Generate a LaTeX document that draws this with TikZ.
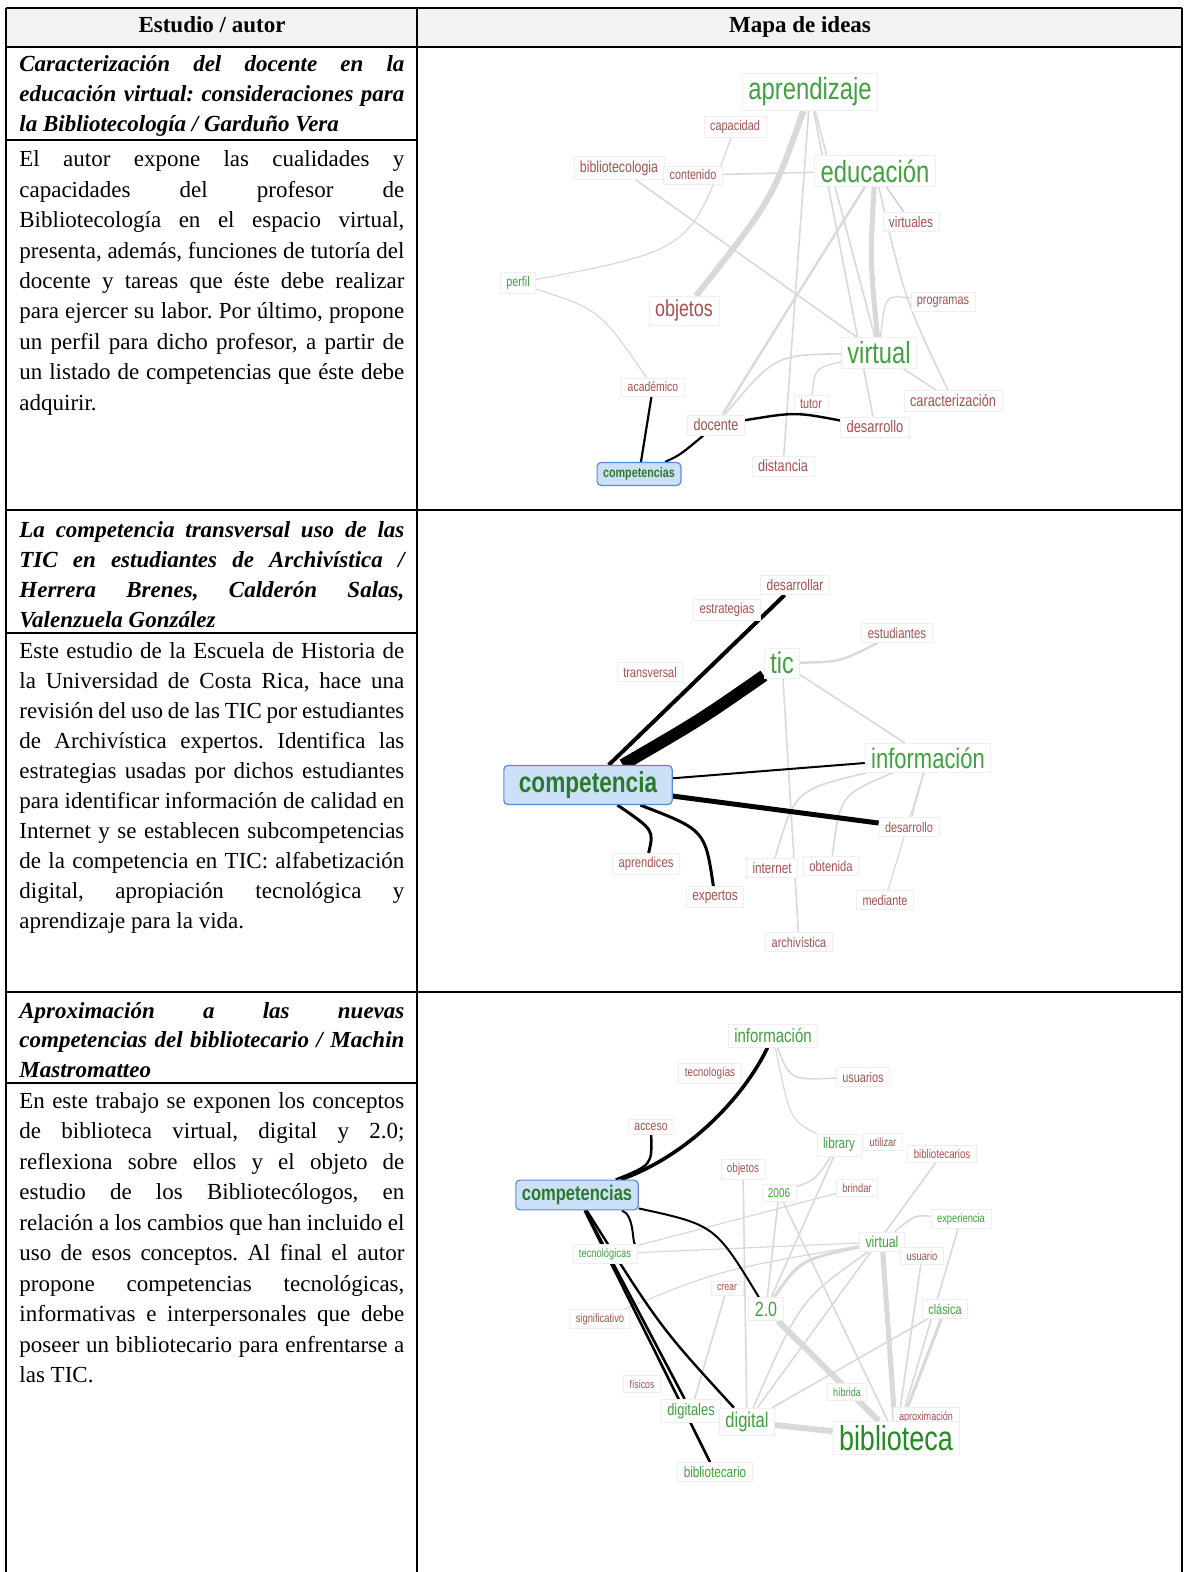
\documentclass[tikz,border=0pt]{standalone}
\usepackage{fontspec}
\setmainfont{Liberation Serif}
\setsansfont{Liberation Sans}
\newfontfamily\mapfont[FakeStretch=0.78]{Liberation Sans}
\definecolor{cGreen}{HTML}{3FA23F}
\definecolor{cDkGreen}{HTML}{248A24}
\definecolor{cSelText}{HTML}{2B7A2B}
\definecolor{cBrown}{HTML}{A5524F}
\definecolor{cEdge}{HTML}{D9D9D9}
\definecolor{cFaint}{HTML}{F0EEEE}
\definecolor{cSel}{HTML}{CCE0F8}
\definecolor{cSelB}{HTML}{5B8BD3}
\definecolor{cHead}{HTML}{F2F2F2}
\pgfdeclarelayer{back}
\pgfsetlayers{back,main}
\newcommand{\jline}[1]{\makebox[192.5pt][s]{#1}}
\frenchspacing

\begin{document}
\begin{tikzpicture}[x=0.5pt,y=-0.5pt,
	txt/.style={anchor=base west, inner sep=0pt, font=\fontsize{11.5}{14}\selectfont},
	ttl/.style={txt, font=\fontsize{11.5}{14}\selectfont\bfseries\itshape},
	hd/.style={anchor=base, inner sep=0pt, font=\fontsize{11.5}{14}\selectfont\bfseries},
	wd/.style={draw=cFaint, line width=0.4pt, fill=white, inner xsep=0.3em, inner ysep=0.2em, font=\mapfont\fontsize{#1}{#1}\selectfont},
	gw/.style={wd=#1, text=cGreen},
	rw/.style={wd=#1, text=cBrown},
	sel/.style={fill=cSel, draw=cSelB, line width=0.6pt, rounded corners=2pt, inner xsep=0.3em, inner ysep=0.25em, text=cSelText, font=\mapfont\bfseries\fontsize{#1}{#1}\selectfont},
	gl/.style={draw=cEdge, line width=#1}, gl/.default=0.8pt,
	bl/.style={draw=black, line width=#1}, bl/.default=1pt]
	\begin{pgfonlayer}{back}
		\fill[white] (0,0) rectangle (1186,1572);
	\end{pgfonlayer}
	\useasboundingbox (0,0) rectangle (1186,1572);
	% table
	\fill[cHead] (6,8) rectangle (1182,47);
	\draw[line width=1pt] (6,8) -- (1182,8) (6,47) -- (1182,47) (6,510) -- (1182,510) (6,992) -- (1182,992)
		(6,8) -- (6,1572) (417,8) -- (417,1572) (1182,8) -- (1182,1572);
	\draw[line width=0.6pt] (6,140) -- (417,140) (6,633) -- (417,633) (6,1083) -- (417,1083);
	\node[hd] (hA) at (212,33) {Estudio / autor};
	\node[hd] (hB) at (800,33) {Mapa de ideas};

	% left column
	\foreach \tx [count=\i from 0] in {{Caracterización del docente en la},{educación virtual: consideraciones para},{la Bibliotecología / Garduño Vera\hfill}}
		\node[ttl] (p1t-\i) at (19,72+30*\i) {\jline{\tx}};
	\foreach \tx [count=\i from 0] in {{El autor expone las cualidades y},{capacidades del profesor de},{Bibliotecología en el espacio virtual,},{presenta, además, funciones de tutoría del},{docente y tareas que éste debe realizar},{para ejercer su labor. Por último, propone},{un perfil para dicho profesor, a partir de},{un listado de competencias que éste debe},{adquirir.\hfill}}
		\node[txt] (p1b-\i) at (19,167+30.4*\i) {\jline{\tx}};
	\foreach \tx [count=\i from 0] in {{La competencia transversal uso de las},{TIC en estudiantes de Archivística /},{Herrera Brenes, Calderón Salas,},{Valenzuela González\hfill}}
		\node[ttl] (p2t-\i) at (19,537+30*\i) {\jline{\tx}};
	\foreach \tx [count=\i from 0] in {{Este estudio de la Escuela de Historia de},{la Universidad de Costa Rica, hace una},{revisión del uso de las TIC por estudiantes},{de Archivística expertos. Identifica las},{estrategias usadas por dichos estudiantes},{para identificar información de calidad en},{Internet y se establecen subcompetencias},{de la competencia en TIC: alfabetización},{digital, apropiación tecnológica y},{aprendizaje para la vida.\hfill}}
		\node[txt] (p2b-\i) at (19,658+30*\i) {\jline{\tx}};
	\foreach \tx [count=\i from 0] in {{Aproximación a las nuevas},{competencias del bibliotecario / Machin},{Mastromatteo\hfill}}
		\node[ttl] (p3t-\i) at (19,1018+29.5*\i) {\jline{\tx}};
	\foreach \tx [count=\i from 0] in {{En este trabajo se exponen los conceptos},{de biblioteca virtual, digital y 2.0;},{reflexiona sobre ellos y el objeto de},{estudio de los Bibliotecólogos, en},{relación a los cambios que han incluido el},{uso de esos conceptos. Al final el autor},{propone competencias tecnológicas,},{informativas e interpersonales que debe},{poseer un bibliotecario para enfrentarse a},{las TIC.\hfill}}
		\node[txt] (p3b-\i) at (19,1108+30.5*\i) {\jline{\tx}};

	% map 1
	\node[gw=15.3] (apr) at (810,92) {aprendizaje};
	\node[rw=7.0] (cap) at (735,127) {capacidad};
	\node[rw=7.9] (bib) at (619,168) {bibliotecologia};
	\node[rw=6.9] (con) at (693,175) {contenido};
	\node[gw=15.3] (edu) at (875,171) {educación};
	\node[rw=7.6] (vls) at (911,222) {virtuales};
	\node[gw=6.9] (per) at (518,283) {perfil};
	\node[rw=11.5] (obj) at (684,311) {objetos};
	\node[rw=7.0] (pro) at (943,302) {programas};
	\node[gw=15.2] (vir) at (879,353) {virtual};
	\node[rw=6.7] (aca) at (653,387) {académico};
	\node[rw=8.2] (car) at (953,401) {caracterización};
	\node[rw=7.0] (tut) at (811,404) {tutor};
	\node[rw=8.1] (doc) at (716,425) {docente};
	\node[rw=8.3] (des) at (875,427) {desarrollo};
	\node[rw=8.1] (dis) at (783,466) {distancia};
	\node[sel=6.9] (com) at (639,474) {competencias};
	\begin{pgfonlayer}{back}
		\draw[gl=3pt] (apr) .. controls (772,200) .. (obj);
		\draw[gl] (apr) -- (vir);
		\draw[gl] (apr) -- (dis);
		\draw[gl] (apr) -- (des);
		\draw[gl=2.5pt] (edu) .. controls (870,260) .. (vir);
		\draw[gl=1.2pt] (edu) .. controls (800,290) .. (doc);
		\draw[gl] (edu) .. controls (905,300) .. (car);
		\draw[draw=cBrown!40, line width=0.5pt] (edu) -- (vls);
		\draw[gl] (con) -- (edu);
		\draw[gl=0.6pt] (cap) .. controls (690,250) .. (per);
		\draw[gl] (bib) -- (vir);
		\draw[gl=0.6pt] (per) .. controls (600,310) .. (aca);
		\draw[gl] (vir) .. controls (775,355) .. (doc);
		\draw[gl=0.7pt] (vir) .. controls (815,368) .. (tut);
		\draw[gl=0.7pt] (vir) .. controls (885,295) .. (pro);
		\draw[gl] (vir) -- (car);
		\draw[bl=1.1pt] (com) -- (aca);
		\draw[bl=1.1pt] (com) .. controls (680,455) .. (doc);
		\draw[bl=1.2pt] (doc) .. controls (795,412) .. (des);
	\end{pgfonlayer}

	% map 2
	\node[sel=14.5, inner xsep=0.75em, inner ysep=0.3em] (comp2) at (588,785) {competencia};
	\node[rw=7.7] (desa) at (795,585) {desarrollar};
	\node[rw=7.2] (estr) at (727,610) {estrategias};
	\node[rw=7.3] (estu) at (897,633) {estudiantes};
	\node[gw=15] (tic) at (782,663) {tic};
	\node[rw=7.0] (tran) at (650,672) {transversal};
	\node[gw=14.1] (inf2) at (928,758) {información};
	\node[rw=7.0] (des2) at (909,827) {desarrollo};
	\node[rw=7.2] (apre) at (646,864) {aprendices};
	\node[rw=7.5] (inte) at (772,868) {internet};
	\node[rw=7.2] (obte) at (831,866) {obtenida};
	\node[rw=7.6] (expe) at (715,897) {expertos};
	\node[rw=7.0] (medi) at (885,900) {mediante};
	\node[rw=7.0] (arch) at (799,942) {archivística};
	\begin{pgfonlayer}{back}
		\draw[gl=1.2pt] (tic) .. controls (840,662) .. (estu);
		\draw[gl] (tic) -- (inf2);
		\draw[gl] (tic) -- (arch);
		\draw[gl] (inf2) .. controls (795,790) .. (inte);
		\draw[gl] (inf2) .. controls (840,795) .. (obte);
		\draw[gl=0.6pt] (inf2) -- (medi);
		\draw[gl=0.6pt] (inf2) -- (des2);
		\draw[bl=2pt] (comp2) -- (desa);
		\draw[bl=6pt] (comp2) .. controls (700,720) .. (tic);
		\draw[bl=1pt] (comp2) -- (inf2);
		\draw[bl=2.5pt] (comp2) -- (des2);
		\draw[bl=1.5pt] (comp2) .. controls (654,830) .. (apre);
		\draw[bl=1.5pt] (comp2) .. controls (705,830) .. (expe);
	\end{pgfonlayer}

	% map 3
	\node[gw=9.6] (inf3) at (773,1036) {información};
	\node[rw=6.3] (tec3) at (710,1073) {tecnologías};
	\node[rw=7.0] (usu3) at (863,1077) {usuarios};
	\node[rw=6.7] (acc) at (651,1127) {acceso};
	\node[gw=7.5] (lib) at (839,1145) {library};
	\node[rw=5.9] (uti) at (883,1142) {utilizar};
	\node[rw=6.2] (bibs) at (942,1154) {bibliotecarios};
	\node[rw=6.4] (obj3) at (743,1169) {objetos};
	\node[gw=6.4] (n2006) at (779,1193) {2006};
	\node[rw=6.0] (bri) at (857,1188) {brindar};
	\node[sel=10.6] (comp3) at (577,1195) {competencias};
	\node[gw=6.0] (exp) at (961,1219) {experiencia};
	\node[gw=7.9] (vir3) at (882,1242) {virtual};
	\node[rw=6.0] (usuo) at (922,1256) {usuario};
	\node[gw=6.0] (tecg) at (605,1254) {tecnológicas};
	\node[rw=5.6] (cre) at (727,1288) {crear};
	\node[gw=10.3] (v20) at (766,1309) {2.0};
	\node[gw=7.0] (cla) at (945,1309) {clásica};
	\node[rw=6.0] (sig) at (600,1319) {significativo};
	\node[rw=5.6] (fis) at (642,1384) {físicos};
	\node[gw=5.8] (hib) at (847,1392) {híbrida};
	\node[gw=8.3] (digs) at (691,1411) {digitales};
	\node[gw=10.6] (dig) at (747,1422) {digital};
	\node[rw=5.8] (apro) at (926,1417) {aproximación};
	\node[gw=17.3, text=cDkGreen] (bibl) at (896,1438) {biblioteca};
	\node[gw=7.5] (bibr) at (715,1472) {bibliotecario};
	\begin{pgfonlayer}{back}
		\draw[gl=3pt] (dig) -- (bibl);
		\draw[gl=3pt] (v20) -- (bibl);
		\draw[gl=2.5pt] (vir3) -- (bibl);
		\draw[gl=1.5pt] (cla) -- (bibl);
		\draw[gl] (inf3) .. controls (790,1080) .. (usu3);
		\draw[gl=0.6pt] (inf3) .. controls (790,1120) .. (lib);
		\draw[gl] (v20) -- (lib);
		\draw[gl] (v20) -- (n2006);
		\draw[gl=1.5pt] (v20) .. controls (800,1260) .. (vir3);
		\draw[gl] (n2006) -- (bibl);
		\draw[gl] (bibs) -- (dig);
		\draw[gl] (obj3) -- (dig);
		\draw[gl] (cre) -- (digs);
		\draw[gl] (exp) .. controls (915,1215) .. (vir3);
		\draw[gl] (usuo) -- (bibl);
		\draw[gl] (exp) -- (bibl);
		\draw[gl=0.6pt] (tecg) -- (vir3);
		\draw[gl=0.6pt] (sig) .. controls (720,1270) .. (vir3);
		\draw[gl] (hib) -- (bibl);
		\draw[gl] (dig) .. controls (800,1300) .. (vir3);
		\draw[gl] (dig) -- (cla);
		\draw[gl] (n2006) .. controls (815,1180) .. (lib);
		\draw[gl=0.6pt] (bri) -- (tecg);
		\draw[bl=1.8pt] (comp3) .. controls (690,1155) and (745,1095) .. (inf3);
		\draw[bl=1.2pt] (comp3) .. controls (652,1165) .. (acc);
		\draw[bl=1pt] (comp3) .. controls (715,1225) .. (v20);
		\draw[bl=1.3pt] (comp3) -- (digs);
		\draw[bl=1.3pt] (comp3) -- (bibr);
		\draw[bl=1.2pt] (comp3) .. controls (660,1327) .. (dig);
		\draw[bl=1pt] (comp3) .. controls (635,1215) and (632,1245) .. (tecg);
	\end{pgfonlayer}
\end{tikzpicture}
\end{document}
